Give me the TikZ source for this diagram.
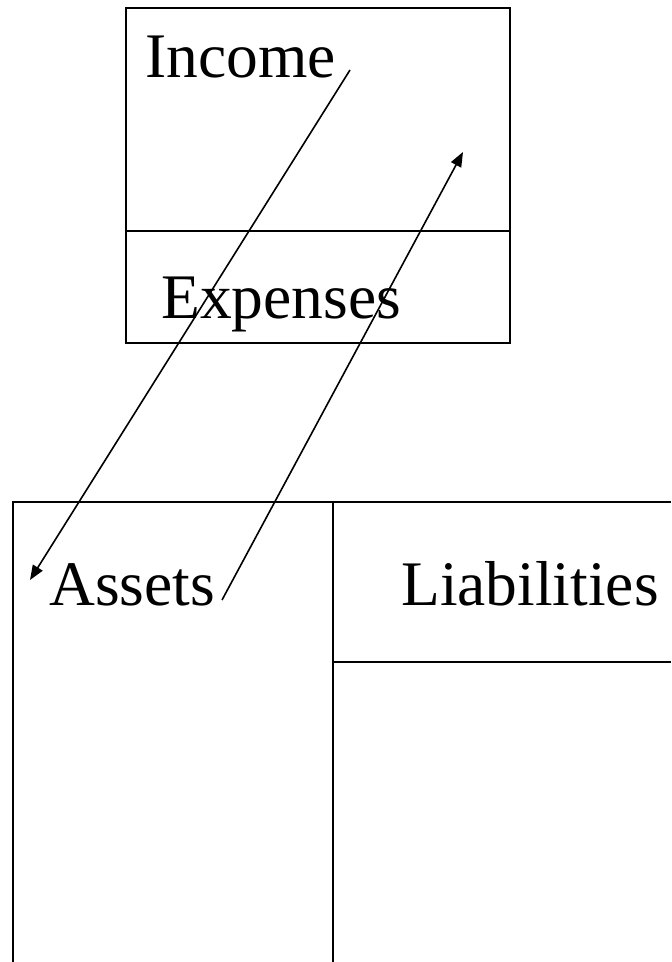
\documentclass[tikz,border=0pt]{standalone}
\usepackage{fontspec}
\setmainfont{Liberation Serif}
\usetikzlibrary{arrows.meta, positioning}

\begin{document}
\begin{tikzpicture}[
    x=0.75pt, y=-0.75pt,
    account/.style={line width=1.3pt, draw=black},
    title/.style={anchor=base west, inner sep=0pt,
      font=\fontsize{47.6}{57}\selectfont},
    flow/.style={-{Triangle[length=11pt, width=8.5pt]}, line width=1.2pt}
  ]
  \useasboundingbox (0,0) rectangle (671,962);

  % Income statement box
  \draw[account] (126,8) rectangle (510,343);
  \draw[account] (126,231) -- (510,231);

  % Balance sheet (cut off at right and bottom)
  \draw[account] (13,962) -- (13,502) -- (671,502);
  \draw[account] (333,502) -- (333,962);
  \draw[account] (333,662) -- (671,662);

  % Labels
  \node[title] (income)      at (145,78)  {Income};
  \node[title] (expenses)    at (161,318) {Expenses};
  \node[title] (assets)      at (49,605)  {Assets};
  \node[title] (liabilities) at (401,605) {Liabilities};

  % Arrow ends
  \coordinate (inc_end)  at (350,70);
  \coordinate (ast_tip)  at (30,580);
  \coordinate (ast_end)  at (222,600);
  \coordinate (inc_tip)  at (463,152);

  % Arrows
  \draw[flow] (inc_end) -- (ast_tip);
  \draw[flow] (ast_end) -- (inc_tip);

\end{tikzpicture}
\end{document}
